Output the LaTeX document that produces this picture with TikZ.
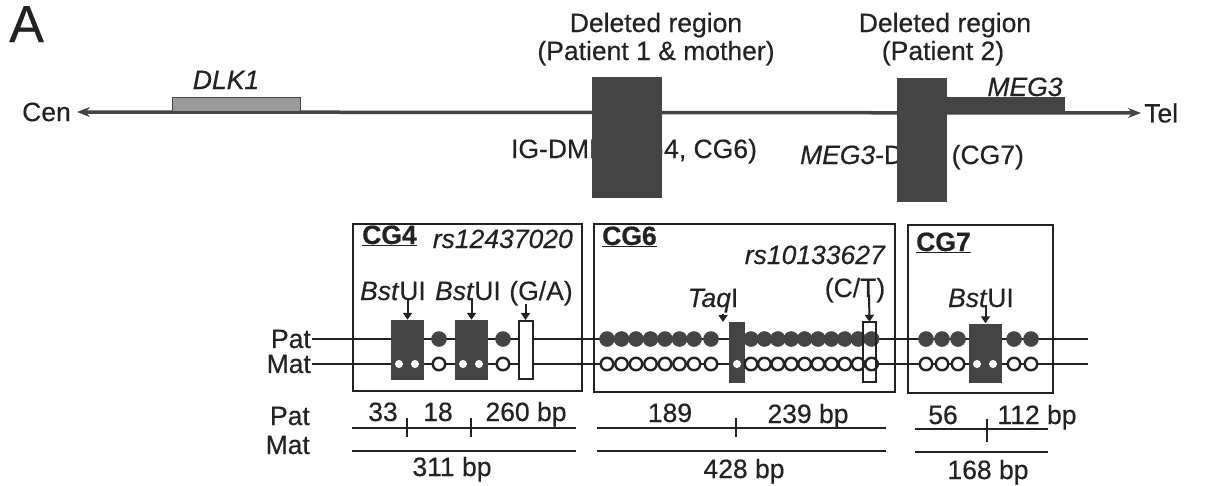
\documentclass[tikz,border=0pt]{standalone}
\usepackage{fontspec}
\setmainfont{Liberation Sans}[UprightFeatures={FakeBold=0.35}, ItalicFeatures={FakeBold=0.35}, BoldFeatures={FakeBold=0.6}]
\usetikzlibrary{arrows.meta}
\definecolor{ink}{HTML}{222222}
\definecolor{dk}{HTML}{444444}
\definecolor{lt}{HTML}{9A9A9A}
\begin{document}
\begin{tikzpicture}[x=1pt,y=-1pt,
  every node/.style={text=ink, inner sep=1pt, font=\fontsize{26.5}{31}\selectfont},
  mainline/.style={draw=dk, line width=3.5pt},
  thin/.style={draw=ink, line width=2.3pt},
  darkbar/.style={fill=dk, draw=none, inner sep=0pt, minimum width=#1},
  whitebar/.style={fill=white, draw=ink, line width=2pt, inner sep=0pt, minimum width=#1},
  fc/.style={circle, fill=dk, draw=dk, line width=0.5pt, minimum size=15pt, inner sep=0pt},
  oc/.style={circle, fill=white, draw=ink, line width=2.4pt, minimum size=12.5pt, inner sep=0pt},
  wd/.style={circle, fill=white, draw=none, minimum size=8pt, inner sep=0pt},
  darr/.style={draw=ink, line width=2pt, -{Triangle[length=7pt,width=9pt]}},
  hd/.style={font=\fontsize{26.5}{31}\selectfont\bfseries}
]
\useasboundingbox (0,0) rectangle (1224,485);
\fill[white] (0,0) rectangle (1224,485);

% ---------- top map ----------
\node[anchor=base west, font=\fontsize{52}{60}\selectfont] (lblA) at (8,42) {A};
\node[anchor=base] (del1a) at (656,32) {Deleted region};
\node[anchor=base] (del1b) at (656,60) {(Patient 1 \& mother)};
\node[anchor=base] (del2a) at (945,32) {Deleted region};
\node[anchor=base] (del2b) at (943,60) {(Patient 2)};

\node[anchor=east] (cen) at (72,112) {Cen};
\node[anchor=west] (tel) at (1143,113) {Tel};
\node[anchor=base] (dlkl) at (226,89) {\itshape DLK1};
\node[anchor=base] (megl) at (1025,96) {\itshape MEG3};

\node[anchor=base] (igdmr) at (634,158) {IG-DMR (CG4, CG6)};
\node[anchor=base] (megdmr) at (912,164) {\textit{MEG3}-DMR (CG7)};

\draw[mainline, {Stealth[length=13pt,width=10pt]}-{Stealth[length=13pt,width=10pt]}]
  ([xshift=5pt]cen.east) -- ([xshift=-2pt]tel.west);

\node[fill=lt, draw=dk, line width=0.6pt, inner sep=0pt, minimum width=128pt, minimum height=14pt] (dlk) at (236,104) {};
\node[darkbar=118pt, minimum height=16pt, anchor=north west] (meg) at (947,97) {};
\node[darkbar=70pt, minimum height=121pt, anchor=north west] (dr1) at (592,77) {};
\node[darkbar=50pt, minimum height=124pt, anchor=north west] (dr2) at (897,78) {};

% ---------- methylation region ----------
\node[anchor=east] (patU) at (312,339) {Pat};
\node[anchor=east] (matU) at (312,364) {Mat};
\coordinate (patUend) at (1088,339);
\coordinate (matUend) at (1088,364);
\draw[thin] (patU.east) -- (patUend);
\draw[thin] (matU.east) -- (matUend);

\draw[thin] (353,224) rectangle (582,391);
\draw[thin] (594,224) rectangle (895,392);
\draw[thin] (908,225) rectangle (1053,393);

% CG4
\node[anchor=base west, hd] (cg4) at (361,244) {\underline{CG4}};
\node[anchor=base east] (rs1) at (574,248) {\itshape rs12437020};
\node[anchor=base] (bsA) at (393,300) {\textit{Bst}UI};
\node[anchor=base] (bsB) at (468,300) {\textit{Bst}UI};
\node[anchor=base] (ga) at (541,300) {(G/A)};
\node[darkbar=33pt, minimum height=60pt] (db1) at (407.5,350) {};
\node[darkbar=33pt, minimum height=60pt] (db2) at (471.5,350) {};
\node[whitebar=14pt, minimum height=58pt] (wb1) at (525.5,350) {};
\draw[darr] ([yshift=3pt]db1.north |- bsA.south) -- (db1.north);
\draw[darr] ([yshift=3pt]db2.north |- bsB.south) -- (db2.north);
\draw[darr] ([yshift=3pt]wb1.north |- ga.south) -- (wb1.north);
\foreach \x [count=\i] in {439,503}{
  \node[fc] (a4p\i) at (\x,339) {};
  \node[oc] (a4m\i) at (\x,364) {};
}
\foreach \x [count=\i] in {399,415,463,479}{
  \node[wd] (a4w\i) at (\x,364) {};
}

% CG6
\node[anchor=base west, hd] (cg6) at (601,245) {\underline{CG6}};
\node[anchor=base east] (rs2) at (886,264) {\itshape rs10133627};
\node[anchor=base] (ct) at (855,297) {(C/T)};
\node[anchor=base] (taq) at (713,307) {\textit{Taq}I};
\node[darkbar=16pt, minimum height=61pt] (tqb) at (737,352) {};
\node[fill=white, draw=none, inner sep=0pt, minimum width=13pt, minimum height=60pt] (wb2) at (869.5,352) {};
\coordinate (taqtip) at (723,322);
\draw[darr] (taqtip |- taq.south) -- (taqtip);
\foreach \x [count=\i] in {607,621.5,636,650.5,665,679.5,694,711,
                          751,764.4,777.8,791.2,804.6,818,831.4,844.8,858.2,871.6}{
  \node[fc] (a6p\i) at (\x,339) {};
  \node[oc] (a6m\i) at (\x,364) {};
}
\node[wd] (a6w) at (737,364) {};
\draw[ink, line width=2pt] (wb2.south west) rectangle (wb2.north east);
\draw[darr] ([xshift=-0.5pt,yshift=9pt]wb2.north |- ct.south) -- (wb2.north);

% CG7
\node[anchor=base west, hd] (cg7) at (915,251) {\underline{CG7}};
\node[anchor=base] (bsC) at (981,307) {\textit{Bst}UI};
\node[darkbar=33pt, minimum height=59pt] (db3) at (985.5,353) {};
\draw[darr] ([yshift=3pt]db3.north |- bsC.south) -- (db3.north);
\foreach \x [count=\i] in {926,942,958,1014,1031}{
  \node[fc] (a7p\i) at (\x,339) {};
  \node[oc] (a7m\i) at (\x,364) {};
}
\foreach \x [count=\i] in {977,993}{
  \node[wd] (a7w\i) at (\x,364) {};
}

% ---------- fragment sizes ----------
\node[anchor=base east] (patL) at (311,425) {Pat};
\node[anchor=base east] (matL) at (311,454) {Mat};

\coordinate (f4a) at (352,428); \coordinate (f4b) at (576,428);
\coordinate (f4c) at (352,451); \coordinate (f4d) at (576,451);
\draw[thin] (f4a) -- (f4b);
\draw[thin] (f4c) -- (f4d);
\draw[thin] (407,418) -- (407,437);
\draw[thin] (471,418) -- (471,437);
\node[anchor=base] (n33) at (383,421) {33};
\node[anchor=base] (n18) at (438,421) {18};
\node[anchor=base] (n260) at (526,421) {260 bp};
\node[anchor=base] (n311) at (452,476) {311 bp};

\coordinate (f6a) at (597,428); \coordinate (f6b) at (886,428);
\coordinate (f6c) at (597,451); \coordinate (f6d) at (886,451);
\draw[thin] (f6a) -- (f6b);
\draw[thin] (f6c) -- (f6d);
\draw[thin] (736,418) -- (736,437);
\node[anchor=base] (n189) at (670,422) {189};
\node[anchor=base] (n239) at (808,423) {239 bp};
\node[anchor=base] (n428) at (744,478) {428 bp};

\coordinate (f7a) at (915,429); \coordinate (f7b) at (1048,429);
\coordinate (f7c) at (915,452); \coordinate (f7d) at (1048,452);
\draw[thin] (f7a) -- (f7b);
\draw[thin] (f7c) -- (f7d);
\draw[thin] (987,419) -- (987,442);
\node[anchor=base] (n56) at (943,424) {56};
\node[anchor=base] (n112) at (1037,424) {112 bp};
\node[anchor=base] (n168) at (988,479) {168 bp};
\end{tikzpicture}
\end{document}
